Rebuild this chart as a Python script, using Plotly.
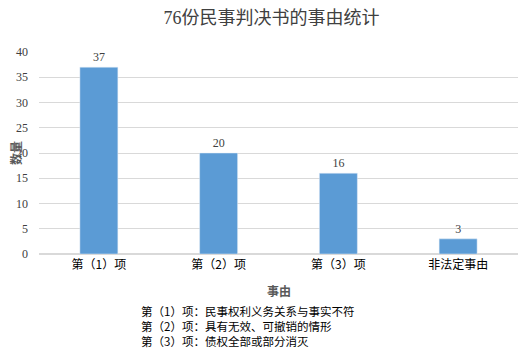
import plotly.graph_objects as go

categories = ["第（1）项", "第（2）项", "第（3）项", "非法定事由"]
counts = [37, 20, 16, 3]
y_ticks = [0, 5, 10, 15, 20, 25, 30, 35, 40]
notes = ["第（1）项：民事权利义务关系与事实不符",
         "第（2）项：具有无效、可撤销的情形",
         "第（3）项：债权全部或部分消灭"]

FONT = "Liberation Serif, Noto Sans CJK SC, serif"
CJK = "Noto Sans CJK SC"

fig = go.Figure(go.Bar(
    x=categories, y=counts, marker_color="#5B9BD5", width=0.317,
    text=counts, textposition="outside", cliponaxis=False,
    textfont=dict(family=FONT, size=12, color="#404040"),
))

fig.update_layout(
    width=530, height=363,
    margin=dict(l=31, r=20, t=44, b=117),
    plot_bgcolor="white", paper_bgcolor="white",
    showlegend=False,
    title=dict(text="76份民事判决书的事由统计", xref="container", x=263.5 / 530, xanchor="center",
               y=1 - 10 / 363, yanchor="middle",
               font=dict(family=FONT, size=18, color="#404040")),
    xaxis=dict(
        automargin=False,
        tickfont=dict(family=CJK, size=12, color="#000000"),
        showline=True, linecolor="#D9D9D9", linewidth=1, ticks="",
    ),
    yaxis=dict(
        automargin=False,
        range=[0, 40], tickvals=y_ticks,
        tickfont=dict(family=FONT, size=12, color="#404040"),
        showgrid=True, gridcolor="#D9D9D9", gridwidth=1,
        zeroline=True, zerolinecolor="#D9D9D9",
        ticks="", ticklabelstandoff=10,
    ),
)

# axis titles
fig.add_annotation(text="<b>事由</b>", xref="paper", yref="paper", x=0.5, y=0, yshift=-36,
                   yanchor="middle", showarrow=False,
                   font=dict(family=CJK, size=12, color="#595959"))
fig.add_annotation(text="<b>数量</b>", xref="paper", yref="paper", x=0, xshift=-24, xanchor="center",
                   y=0.5, yanchor="middle",
                   textangle=-90, showarrow=False,
                   font=dict(family=CJK, size=12, color="#595959"))

for i, line in enumerate(notes):
    fig.add_annotation(
        text=line, xref="paper", yref="paper", x=(139 - 39) / 479, xanchor="left",
        y=0, yshift=-(311 - 254) - 15 * i, yanchor="middle", showarrow=False,
        font=dict(family=CJK, size=11.5, color="#000000"),
    )

fig.write_html("out.html")
